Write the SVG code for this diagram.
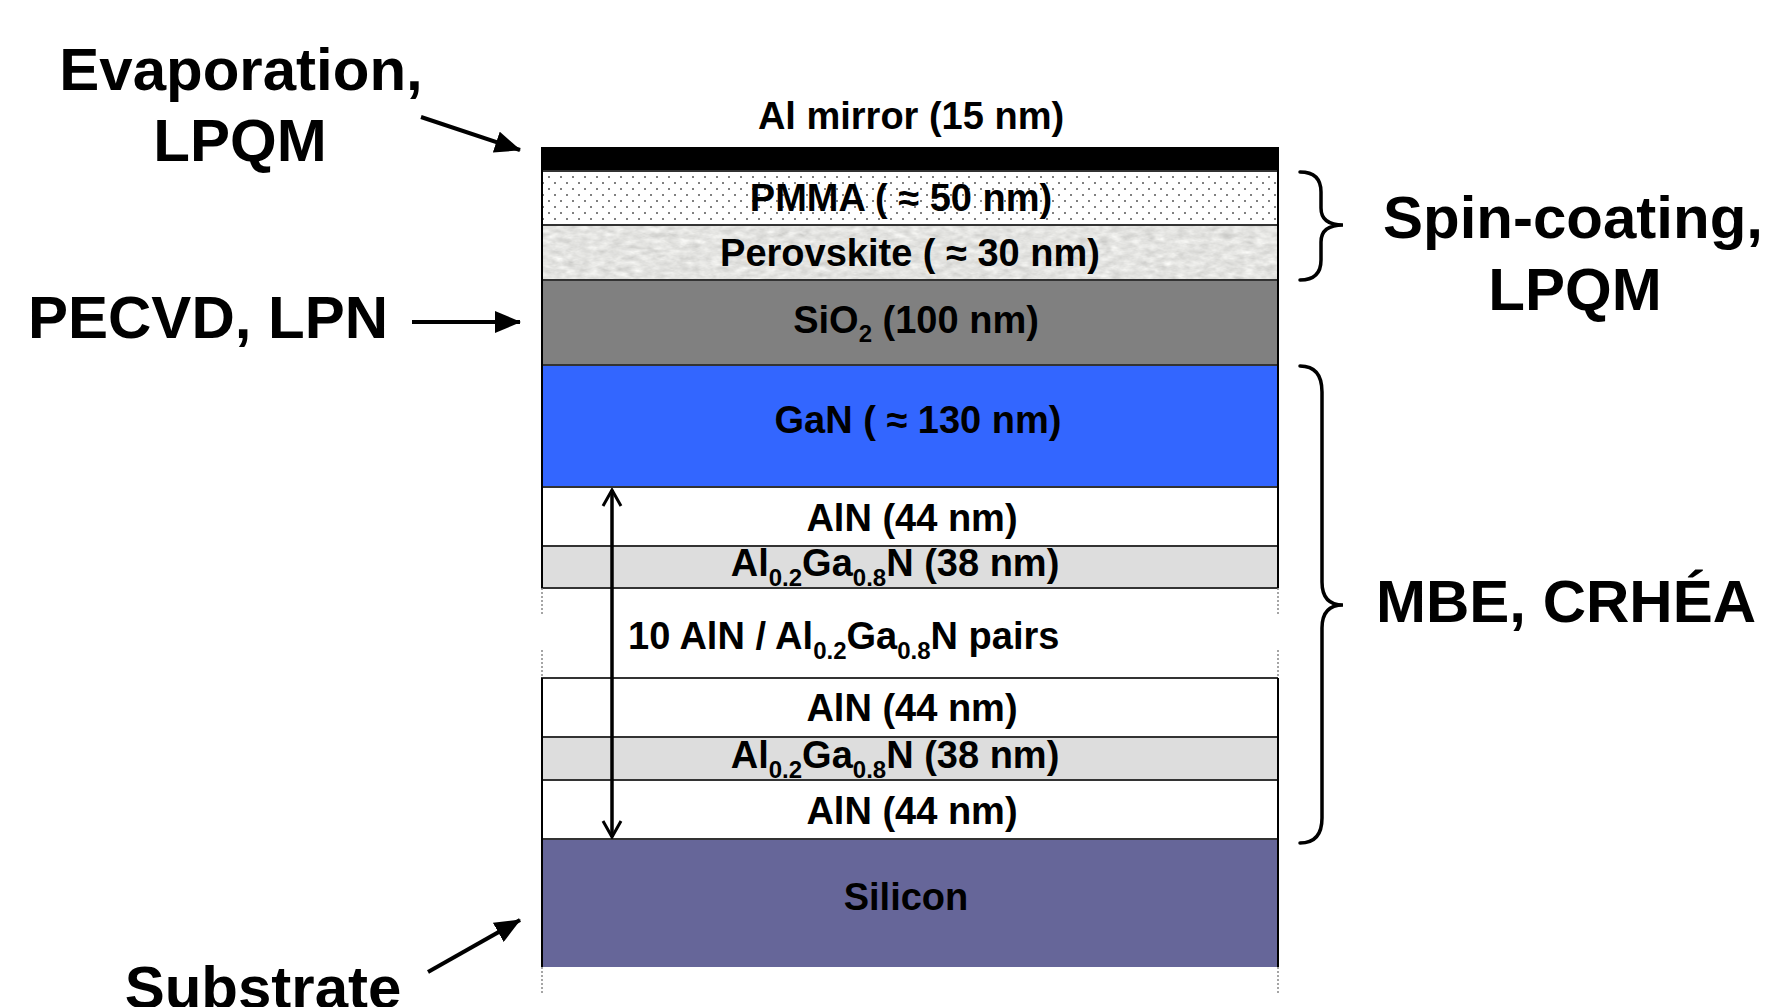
<svg xmlns="http://www.w3.org/2000/svg" width="1769" height="1007" viewBox="0 0 1769 1007">
<style>
.lbl{font-family:"Liberation Sans",Arial,sans-serif;font-weight:bold;fill:#000;font-size:38px;text-anchor:middle}
.big{font-family:"Liberation Sans",Arial,sans-serif;font-weight:bold;fill:#000;font-size:60px}
.sub{font-size:24px}
.edge{stroke:#333;stroke-width:2}
.side{stroke:#000;stroke-width:2}
.dot{stroke:#888;stroke-width:1.5;stroke-dasharray:2 2}
.brace{fill:none;stroke:#000;stroke-width:3.5;stroke-linecap:round}
.conn{stroke:#000;stroke-width:4;fill:none}
</style>
<defs>
<pattern id="dots" width="12" height="12" patternUnits="userSpaceOnUse">
<circle cx="3" cy="3" r="1" fill="#555"/>
<circle cx="9" cy="9" r="1" fill="#555"/>
</pattern>
<filter id="grain" x="0" y="0" width="100%" height="100%" color-interpolation-filters="sRGB">
<feTurbulence type="fractalNoise" baseFrequency="0.09 0.18" numOctaves="3" seed="4" result="n"/>
<feColorMatrix in="n" type="matrix" values="0.33 0.33 0.33 0 0 0.33 0.33 0.33 0 0 0.33 0.33 0.33 0 0 0 0 0 0 1" result="g"/>
<feComponentTransfer in="g" result="c">
<feFuncR type="linear" slope="0.35" intercept="0.72"/>
<feFuncG type="linear" slope="0.35" intercept="0.72"/>
<feFuncB type="linear" slope="0.35" intercept="0.71"/>
</feComponentTransfer>
<feComposite in="c" in2="SourceGraphic" operator="in"/>
</filter>
<marker id="fill-head" viewBox="0 0 26 22" refX="25" refY="11" markerWidth="26" markerHeight="22" markerUnits="userSpaceOnUse" orient="auto">
<path d="M0,0 L26,11 L0,22 Z" fill="#000"/>
</marker>
<marker id="open-head" viewBox="0 0 20 22" refX="18" refY="11" markerWidth="20" markerHeight="22" markerUnits="userSpaceOnUse" orient="auto-start-reverse">
<path d="M2,2 L18,11 L2,20" fill="none" stroke="#000" stroke-width="3"/>
</marker>
</defs>
<rect width="1769" height="1007" fill="#fff"/>

<g id="al-mirror">
<rect x="541" y="147" width="737" height="24" fill="#000"/>
<text class="lbl" x="911" y="129">Al mirror (15 nm)</text>
</g>
<g id="pmma">
<rect x="541" y="171" width="737" height="54" fill="#fff"/>
<rect x="541" y="171" width="737" height="54" fill="url(#dots)"/>
<text class="lbl" x="901" y="211">PMMA ( ≈ 50 nm)</text>
</g>
<g id="perovskite">
<rect x="541" y="225" width="737" height="55" fill="#e2e2df" filter="url(#grain)"/>
<text class="lbl" x="910" y="266">Perovskite ( ≈ 30 nm)</text>
</g>
<g id="sio2">
<rect x="541" y="280" width="737" height="85" fill="#808080"/>
<text class="lbl" x="916" y="333">SiO<tspan class="sub" dy="9">2</tspan><tspan dy="-9"> (100 nm)</tspan></text>
</g>
<g id="gan">
<rect x="541" y="365" width="737" height="122" fill="#3366ff"/>
<text class="lbl" x="918" y="433">GaN ( ≈ 130 nm)</text>
</g>
<g id="aln-1">
<rect x="541" y="487" width="737" height="59" fill="#fff"/>
<text class="lbl" x="912" y="531">AlN (44 nm)</text>
</g>
<g id="algan-1">
<rect x="541" y="546" width="737" height="42" fill="#dddddd"/>
<text class="lbl" x="895" y="576">Al<tspan class="sub" dy="10">0.2</tspan><tspan dy="-10">Ga</tspan><tspan class="sub" dy="10">0.8</tspan><tspan dy="-10">N (38 nm)</tspan></text>
</g>
<g id="pairs">
<text class="lbl" x="628" y="649" style="text-anchor:start">10 AlN / Al<tspan class="sub" dy="10">0.2</tspan><tspan dy="-10">Ga</tspan><tspan class="sub" dy="10">0.8</tspan><tspan dy="-10">N pairs</tspan></text>
</g>
<g id="aln-2">
<rect x="541" y="678" width="737" height="59" fill="#fff"/>
<text class="lbl" x="912" y="721">AlN (44 nm)</text>
</g>
<g id="algan-2">
<rect x="541" y="737" width="737" height="43" fill="#dddddd"/>
<text class="lbl" x="895" y="768">Al<tspan class="sub" dy="10">0.2</tspan><tspan dy="-10">Ga</tspan><tspan class="sub" dy="10">0.8</tspan><tspan dy="-10">N (38 nm)</tspan></text>
</g>
<g id="aln-3">
<rect x="541" y="780" width="737" height="59" fill="#fff"/>
<text class="lbl" x="912" y="824">AlN (44 nm)</text>
</g>
<g id="silicon">
<rect x="541" y="839" width="737" height="128" fill="#666699"/>
<text class="lbl" x="906" y="910">Silicon</text>
</g>

<g id="stack-lines">
<line class="edge" x1="541" y1="171" x2="1278" y2="171"/>
<line class="edge" x1="541" y1="225" x2="1278" y2="225"/>
<line class="edge" x1="541" y1="280" x2="1278" y2="280"/>
<line class="edge" x1="541" y1="365" x2="1278" y2="365"/>
<line class="edge" x1="541" y1="487" x2="1278" y2="487"/>
<line class="edge" x1="541" y1="546" x2="1278" y2="546"/>
<line class="edge" x1="541" y1="588" x2="1278" y2="588"/>
<line class="edge" x1="541" y1="678" x2="1278" y2="678"/>
<line class="edge" x1="541" y1="737" x2="1278" y2="737"/>
<line class="edge" x1="541" y1="780" x2="1278" y2="780"/>
<line class="edge" x1="541" y1="839" x2="1278" y2="839"/>
<line class="side" x1="542" y1="147" x2="542" y2="588"/>
<line class="side" x1="1278" y1="147" x2="1278" y2="588"/>
<line class="side" x1="542" y1="678" x2="542" y2="967"/>
<line class="side" x1="1278" y1="678" x2="1278" y2="967"/>
<line class="dot" x1="542" y1="588" x2="542" y2="615"/>
<line class="dot" x1="542" y1="650" x2="542" y2="678"/>
<line class="dot" x1="1278" y1="588" x2="1278" y2="615"/>
<line class="dot" x1="1278" y1="650" x2="1278" y2="678"/>
<line class="dot" x1="542" y1="967" x2="542" y2="993"/>
<line class="dot" x1="1278" y1="967" x2="1278" y2="993"/>
</g>

<g id="label-evaporation">
<text class="big" x="241" y="90" text-anchor="middle">Evaporation,</text>
<text class="big" x="240" y="161" text-anchor="middle">LPQM</text>
</g>
<g id="label-pecvd">
<text class="big" x="28" y="338">PECVD, LPN</text>
</g>
<g id="label-substrate">
<text class="big" x="263" y="1008" text-anchor="middle">Substrate</text>
</g>
<g id="label-spin">
<text class="big" x="1573" y="238" text-anchor="middle">Spin-coating,</text>
<text class="big" x="1575" y="310" text-anchor="middle">LPQM</text>
</g>
<g id="label-mbe">
<text class="big" x="1566" y="622" text-anchor="middle">MBE, CRHÉA</text>
</g>

<g id="connectors">
<line class="conn" x1="421" y1="117" x2="520" y2="150" marker-end="url(#fill-head)"/>
<line class="conn" x1="412" y1="322" x2="520" y2="322" marker-end="url(#fill-head)"/>
<line class="conn" x1="428" y1="972" x2="520" y2="920" marker-end="url(#fill-head)"/>
<line x1="612" y1="490" x2="612" y2="837" stroke="#000" stroke-width="3.5" marker-start="url(#open-head)" marker-end="url(#open-head)"/>
<path class="brace" d="M1300,172 Q1321,172 1321,192 L1321,208 Q1321,225 1343,225 Q1321,225 1321,242 L1321,260 Q1321,280 1300,280"/>
<path class="brace" d="M1300,366 Q1322,366 1322,392 L1322,582 Q1322,605 1343,605 Q1322,605 1322,628 L1322,818 Q1322,843 1300,843"/>
</g>
</svg>
